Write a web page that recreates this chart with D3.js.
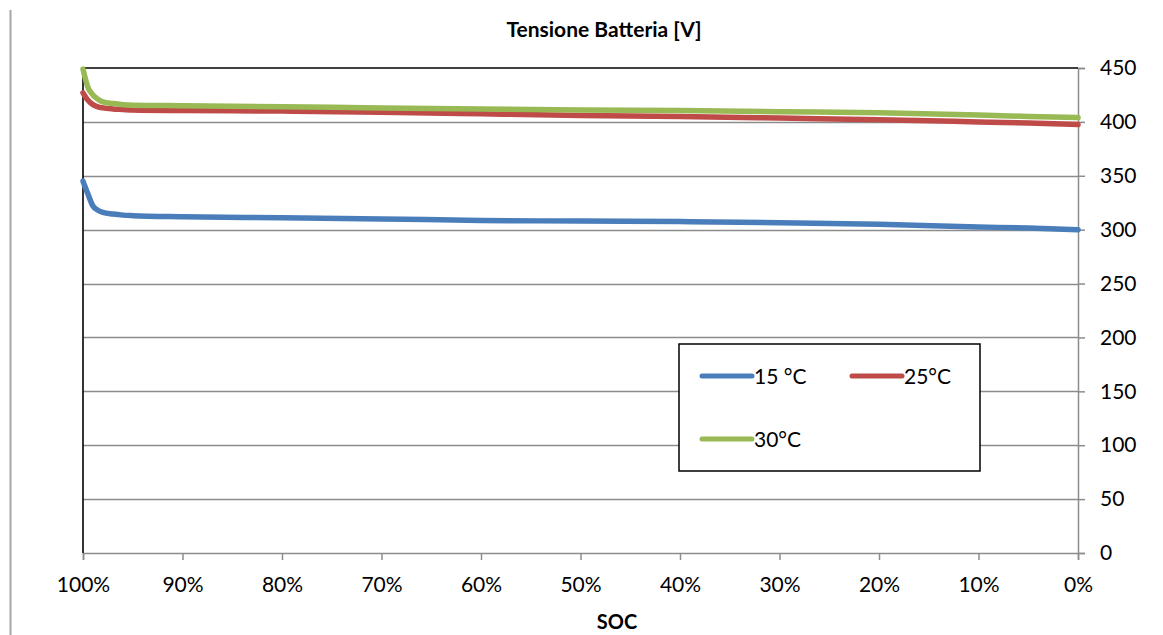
<!DOCTYPE html>
<html>
<head>
<meta charset="utf-8">
<script src="https://cdn.jsdelivr.net/npm/d3@7"></script>
<style>
  html, body { margin: 0; padding: 0; background: #fff; }
  svg { display: block; }
  text { font-family: Lato, "Open Sans", sans-serif; fill: #000; }
</style>
</head>
<body>
<svg id="chart" width="1163" height="635"></svg>
<script>
// ---- Data ----
const soc = [100, 99.5, 99, 98.5, 98, 97, 96, 95, 90, 80, 70, 60, 50, 40, 30, 20, 10, 5, 0];
const v15 = [345, 333, 322, 318, 316, 314.5, 313.5, 313, 312, 311, 310, 308.5, 308, 307.5, 306.5, 305, 302.5, 301.5, 300];
const v25 = [427, 420, 416, 414, 413, 412, 411.5, 411, 410.5, 410, 409, 407.5, 406, 405, 403.5, 402, 400, 399, 397.5];
const v30 = [449, 432, 425, 421, 418.5, 417, 416, 415.5, 415, 414, 413, 412, 411, 410.5, 409.5, 408.5, 406.5, 405, 404];
const seriesNames = ["15 °C", "25°C", "30°C"];
const seriesColors = ["#4A7EBB", "#BE4B48", "#98B954"];
const xTicks = [100, 90, 80, 70, 60, 50, 40, 30, 20, 10, 0];
const yTicks = [0, 50, 100, 150, 200, 250, 300, 350, 400, 450];
const chartTitle = "Tensione Batteria [V]";
const xTitle = "SOC";

// ---- Layout ----
const svg = d3.select("#chart");
const L = 83, R = 1078, T = 68, B = 553;

const x = d3.scaleLinear().domain([100, 0]).range([L, R]);
const y = d3.scaleLinear().domain([0, 450]).range([B, T]);

// left decorative border line
svg.append("line").attr("x1", 10.5).attr("x2", 10.5).attr("y1", 10).attr("y2", 635)
  .attr("stroke", "#a6a6a6").attr("stroke-width", 2);

// gridlines
svg.append("g").selectAll("line").data(yTicks.filter(d => d > 0 && d < 450)).join("line")
  .attr("x1", L).attr("x2", R)
  .attr("y1", d => Math.round(y(d)) + 0.5).attr("y2", d => Math.round(y(d)) + 0.5)
  .attr("stroke", "#8c8c8c").attr("stroke-width", 1.3);

// right y axis
const yAxis = d3.axisRight(y).tickValues(yTicks).tickSize(7).tickPadding(15).tickFormat(d3.format("d"));
const gy = svg.append("g").attr("transform", `translate(${R},0)`).call(yAxis);
gy.select(".domain").attr("stroke", "#8c8c8c").attr("stroke-width", 1.5);
gy.selectAll(".tick line").attr("stroke", "#8c8c8c").attr("stroke-width", 1.5);
gy.selectAll(".tick text").attr("font-size", 21).attr("font-family", "Lato, 'Open Sans', sans-serif").attr("fill", "#000");

// bottom x axis
const xAxis = d3.axisBottom(x).tickValues(xTicks).tickSize(7).tickPadding(17).tickFormat(d => d + "%");
const gx = svg.append("g").attr("transform", `translate(0,${B})`).call(xAxis);
gx.select(".domain").attr("stroke", "#8c8c8c").attr("stroke-width", 1.5);
gx.selectAll(".tick line").attr("stroke", "#8c8c8c").attr("stroke-width", 1.5);
gx.selectAll(".tick text").attr("font-size", 21).attr("font-family", "Lato, 'Open Sans', sans-serif").attr("fill", "#000");

// top and left black borders
svg.append("line").attr("x1", L).attr("x2", R).attr("y1", T).attr("y2", T).attr("stroke", "#000").attr("stroke-width", 1.6);
svg.append("line").attr("x1", L).attr("x2", L).attr("y1", T).attr("y2", B).attr("stroke", "#000").attr("stroke-width", 1.6);

// series
const allSeries = [v15, v25, v30];
const line = d3.line().x(d => x(d[0])).y(d => y(d[1])).curve(d3.curveMonotoneX);
allSeries.forEach((vals, i) => {
  const pts = soc.map((s, j) => [s, vals[j]]);
  svg.append("path").datum(pts)
    .attr("fill", "none").attr("stroke", seriesColors[i]).attr("stroke-width", 5.5)
    .attr("stroke-linejoin", "round").attr("stroke-linecap", "round")
    .attr("d", line);
});

// titles
svg.append("text").attr("x", 604).attr("y", 37).attr("text-anchor", "middle")
  .attr("font-size", 21).attr("font-weight", "bold").text(chartTitle);
svg.append("text").attr("x", 617).attr("y", 629).attr("text-anchor", "middle")
  .attr("font-size", 20).attr("font-weight", "bold").text(xTitle);

// legend
const lg = svg.append("g");
lg.append("rect").attr("x", 679).attr("y", 344).attr("width", 301).attr("height", 127)
  .attr("fill", "#fff").attr("stroke", "#000").attr("stroke-width", 1.5);
const legendPos = [[702, 376], [852, 376], [702, 439]];
seriesNames.forEach((name, i) => {
  const [lx, ly] = legendPos[i];
  lg.append("line").attr("x1", lx).attr("x2", lx + 50).attr("y1", ly).attr("y2", ly)
    .attr("stroke", seriesColors[i]).attr("stroke-width", 5).attr("stroke-linecap", "round");
  lg.append("text").attr("x", lx + 52).attr("y", ly).attr("dy", "0.36em")
    .attr("font-size", 21).text(name);
});
</script>
</body>
</html>
